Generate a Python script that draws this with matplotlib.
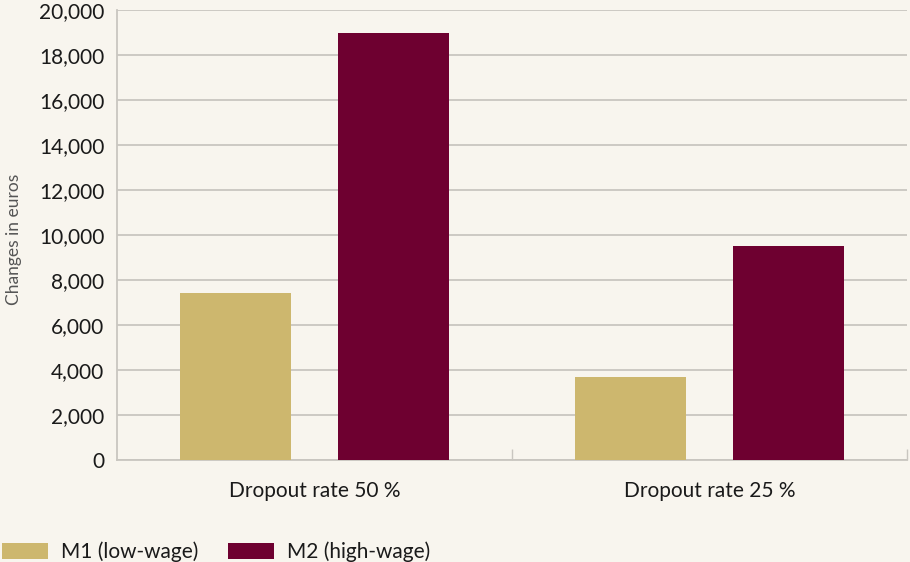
import matplotlib
matplotlib.use("Agg")
import matplotlib.pyplot as plt
import matplotlib.ticker as ticker
import numpy as np

categories = ["Dropout rate 50 %", "Dropout rate 25 %"]
series_names = ["M1 (low-wage)", "M2 (high-wage)"]
m1_values = [7400, 3700]
m2_values = [19000, 9500]
colors = ["#CDB76E", "#6E0030"]

bg = "#F8F5EE"
grid_col = "#C9C6C0"

plt.rcParams["font.family"] = ["Lato", "DejaVu Sans"]

fig = plt.figure(figsize=(9.1, 5.62), dpi=100, facecolor=bg)
ax = fig.add_axes([0.1286, 0.1815, 0.8681, 0.8007])
ax.set_facecolor(bg)

x = np.arange(len(categories))
w = 0.28
b1 = ax.bar(x - 0.2, m1_values, w, color=colors[0], label=series_names[0], zorder=3)
b2 = ax.bar(x + 0.2, m2_values, w, color=colors[1], label=series_names[1], zorder=3)

ax.set_xlim(-0.5, 1.5)
ax.set_ylim(0, 20000)
ax.yaxis.set_major_locator(ticker.MultipleLocator(2000))
ax.yaxis.set_major_formatter(ticker.FuncFormatter(lambda v, p: f"{int(v):,}"))
ax.grid(axis="y", color=grid_col, linewidth=1.3, zorder=0)
ax.set_axisbelow(True)

# category labels in the middle, separator ticks between groups
ax.set_xticks(x)
ax.set_xticklabels(categories, fontsize=15, color="#1a1a1a")
ax.tick_params(axis="x", which="major", length=0, pad=15)
ax.set_xticks([0.5, 1.5], minor=True)
ax.tick_params(axis="x", which="minor", direction="in", length=8, color=grid_col, width=1)
ax.tick_params(axis="y", length=0, pad=9, labelsize=15, labelcolor="#1a1a1a")

for s in ["top", "right"]:
    ax.spines[s].set_visible(False)
for s in ["left", "bottom"]:
    ax.spines[s].set_color(grid_col)
    ax.spines[s].set_linewidth(1.3)

ax.set_ylabel("Changes in euros", fontsize=12.5, color="#555555")
ax.yaxis.set_label_coords(-0.12, 0.49)

fig.legend(handles=[b1, b2], loc="lower left", bbox_to_anchor=(-0.018, -0.034),
           ncol=2, frameon=False, fontsize=15, handlelength=2.2, handleheight=0.75,
           handletextpad=0.6, columnspacing=1.45, labelcolor="#1a1a1a")

fig.savefig("out.png", dpi=100, facecolor=bg)
